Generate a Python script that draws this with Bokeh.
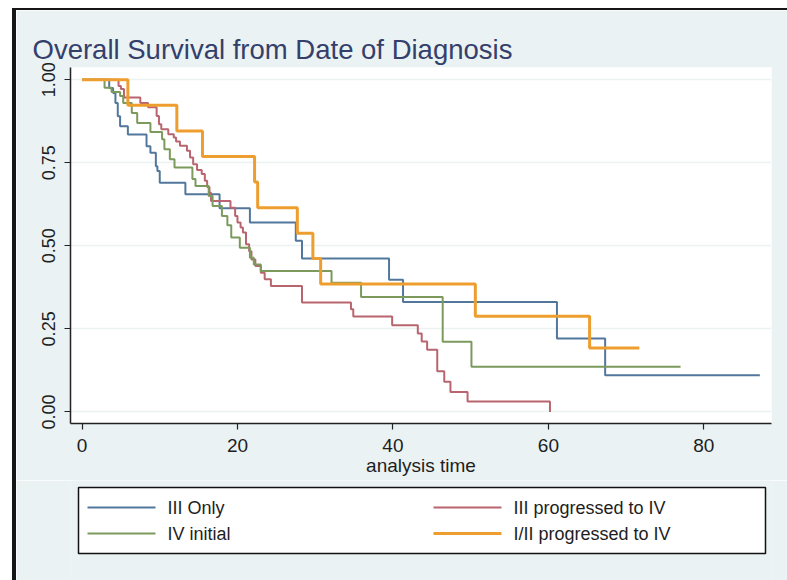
from bokeh.plotting import figure
from bokeh.layouts import column
from bokeh.models import FixedTicker, NumeralTickFormatter, Range1d
from bokeh.core.properties import value
from bokeh.embed import file_html
from bokeh.resources import INLINE

# Kaplan-Meier survival estimates: time of each drop (months) and survival after it.
# The last entry of each group marks the end of follow-up.
iii_only_t = [0, 3.5, 4.0, 4.3, 4.6, 4.9, 5.9, 8.3, 8.8, 9.5, 9.7, 10.0, 13.3, 17.7,
              21.6, 27.5, 28.3, 39.5, 41.3, 61.1, 67.3, 87.2]
iii_only_s = [1.0, 0.975, 0.96, 0.93, 0.89, 0.86, 0.835, 0.80, 0.78, 0.74, 0.725, 0.69,
              0.655, 0.613, 0.570, 0.515, 0.462, 0.398, 0.331, 0.221, 0.110, 0.110]

iii_prog_t = [0, 4.7, 5.0, 5.4, 7.5, 8.5, 9.6, 9.9, 10.2, 11.1, 11.8, 12.1, 12.6, 13.5,
              13.9, 14.3, 14.8, 15.4, 15.8, 16.1, 16.4, 16.6, 19.1, 19.7, 20.0, 20.4,
              20.7, 21.1, 21.5, 21.8, 22.3, 23.0, 23.5, 24.3, 28.3, 34.6, 34.9, 39.9,
              43.2, 43.7, 44.4, 45.7, 46.6, 47.4, 49.6, 60.2]
iii_prog_s = [1.0, 0.981, 0.972, 0.947, 0.93, 0.917, 0.891, 0.866, 0.851, 0.836, 0.826,
              0.814, 0.801, 0.786, 0.766, 0.746, 0.728, 0.716, 0.696, 0.677, 0.660,
              0.635, 0.615, 0.590, 0.570, 0.555, 0.540, 0.505, 0.484, 0.459, 0.439,
              0.419, 0.399, 0.379, 0.329, 0.309, 0.287, 0.261, 0.236, 0.212, 0.187,
              0.122, 0.091, 0.060, 0.031, 0.0]

iv_initial_t = [0, 2.9, 3.8, 4.9, 5.3, 6.4, 7.1, 8.8, 10.3, 10.6, 11.3, 11.9, 14.2, 14.6,
                16.3, 16.8, 18.0, 18.7, 19.2, 20.3, 21.6, 22.1, 23.0, 32.1, 35.9, 46.4,
                50.1, 77.0]
iv_initial_s = [1.0, 0.976, 0.963, 0.951, 0.93, 0.90, 0.870, 0.843, 0.821, 0.791, 0.761,
                0.736, 0.701, 0.680, 0.650, 0.620, 0.590, 0.562, 0.525, 0.494, 0.464,
                0.444, 0.424, 0.389, 0.346, 0.211, 0.136, 0.136]

i_ii_prog_t = [0, 5.9, 12.2, 15.5, 22.2, 22.6, 27.7, 29.7, 30.7, 50.6, 65.3, 71.7]
i_ii_prog_s = [1.0, 0.923, 0.846, 0.769, 0.692, 0.615, 0.538, 0.462, 0.385, 0.288,
               0.192, 0.192]

group_labels = ["III Only", "III progressed to IV", "IV initial", "I/II progressed to IV"]
group_colors = ["#52779C", "#B8656F", "#7B9A5C", "#EE9E2E"]
group_widths = [2, 2, 2, 3]

x_ticks = [0, 20, 40, 60, 80]
y_ticks = [0.0, 0.25, 0.50, 0.75, 1.00]

BG = "#EAF2F3"
FONT = "Liberation Sans"
TXT = "#1e1e1e"
EDGE = "#161616"

# ---- survival plot ----
p = figure(width=771, height=470, output_backend="svg", toolbar_location=None,
           x_range=Range1d(-1.48, 88.7), y_range=Range1d(-0.035, 1.037),
           min_border_left=54, min_border_right=16, min_border_top=57, min_border_bottom=57,
           background_fill_color="white", border_fill_color=BG, outline_line_color=None)

p.title.text = "Overall Survival from Date of Diagnosis"
p.title.text_font = FONT
p.title.text_font_size = "27.5px"
p.title.text_font_style = "normal"
p.title.text_color = "#34406B"
p.title.align = "left"
p.title.offset = -38
p.title.standoff = 6

p.xaxis.ticker = FixedTicker(ticks=x_ticks)
p.yaxis.ticker = FixedTicker(ticks=y_ticks)
p.yaxis.formatter = NumeralTickFormatter(format="0.00")
p.yaxis.major_label_orientation = "vertical"
p.xaxis.axis_label = "analysis time"
for ax in (p.xaxis, p.yaxis):
    ax.axis_line_color = "#222222"
    ax.axis_line_width = 1.5
    ax.major_tick_line_color = "#222222"
    ax.major_tick_line_width = 1.2
    ax.major_tick_in = 0
    ax.major_tick_out = 6
    ax.minor_tick_line_color = None
    ax.major_label_text_font = FONT
    ax.major_label_text_color = TXT
    ax.axis_label_text_font = FONT
    ax.axis_label_text_font_style = "normal"
    ax.axis_label_text_color = TXT
p.xaxis.major_label_text_font_size = "19px"
p.yaxis.major_label_text_font_size = "18px"
p.xaxis.axis_label_text_font_size = "19px"
p.xaxis.major_label_standoff = 9
p.xaxis.axis_label_standoff = 0
p.yaxis.major_label_standoff = 9

p.xgrid.grid_line_color = None
p.ygrid.grid_line_color = BG
p.ygrid.grid_line_width = 1.5

# survival curves drawn as right-continuous steps
curves = [(iii_only_t, iii_only_s), (iii_prog_t, iii_prog_s),
          (iv_initial_t, iv_initial_s), (i_ii_prog_t, i_ii_prog_s)]
for (t, s), c, w in zip(curves, group_colors, group_widths):
    p.step(t, s, mode="after", line_color=c, line_width=w)

# ---- key strip under the plot; its frame spans the same width as the plot frame ----
key = figure(width=771, height=100, output_backend="svg", toolbar_location=None,
             x_range=Range1d(0, 701), y_range=Range1d(0, 100),
             min_border_left=54, min_border_right=16, min_border_top=0, min_border_bottom=0,
             background_fill_color=BG, border_fill_color=BG, outline_line_color=None,
             x_axis_type=None, y_axis_type=None)
key.grid.grid_line_color = None

# boxed two-column key (pixel layout within the strip)
box_left, box_right, box_bottom, box_top = 8, 695, 27, 93
key.quad(left=[box_left], right=[box_right], bottom=[box_bottom], top=[box_top],
         fill_color="white", line_color="#111111", line_width=1.5)

col_x = [17, 363]         # left end of the sample line in each column
row_y = [73, 47]          # centre line of each row
sample_len = 68
gap = 12
kx0 = [col_x[i % 2] for i in range(len(group_labels))]
ky = [row_y[i // 2] for i in range(len(group_labels))]
key.segment(x0=kx0, y0=ky, x1=[x + sample_len for x in kx0], y1=ky,
            line_color=group_colors, line_width=group_widths)
key.text(x=[x + sample_len + gap for x in kx0], y=ky, text=group_labels,
         text_font=value(FONT), text_font_size="18px", text_color=TXT,
         text_baseline="middle", text_align="left")

layout = column(p, key, spacing=0)
layout.margin = (8, 0, 0, 12)
layout.styles = {"border-left": f"4px solid {EDGE}", "border-top": f"2px solid {EDGE}"}
open("out.html", "w").write(file_html(layout, INLINE))
